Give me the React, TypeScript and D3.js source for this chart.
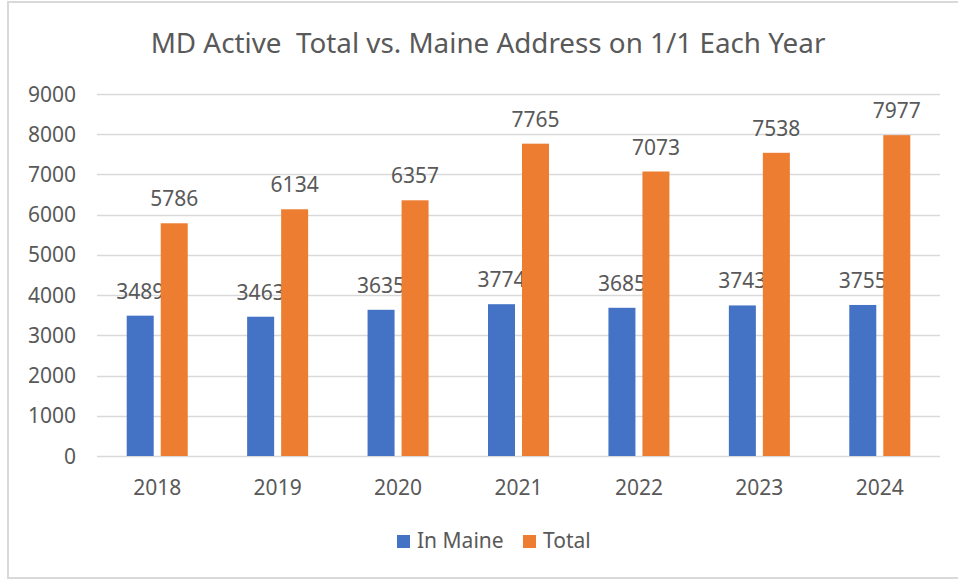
import React from "react";
import * as d3 from "d3";

const years = ["2018", "2019", "2020", "2021", "2022", "2023", "2024"];
const inMaine = [3489, 3463, 3635, 3774, 3685, 3743, 3755];
const total = [5786, 6134, 6357, 7765, 7073, 7538, 7977];
const yTicks = [0, 1000, 2000, 3000, 4000, 5000, 6000, 7000, 8000, 9000];
const seriesNames = ["In Maine", "Total"];
const colors = ["#4472C4", "#ED7D31"];
const title = "MD Active\u00A0 Total vs. Maine Address on 1/1 Each Year";

const W = 958;
const H = 579;
const FONT = "'Noto Sans', 'Open Sans', sans-serif";
const TXT = "#595959";

export default function App() {
  const left = 97;
  const right = 940;
  const y = d3.scaleLinear().domain([0, 9000]).range([456, 94]);
  const x = d3.scaleBand().domain(years).range([left, right]).paddingInner(0).paddingOuter(0);
  const barW = 27;
  const gap = 7;
  const series = [inMaine, total];

  return (
    <svg width={W} height={H} style={{ position: "absolute", left: 0, top: 0, background: "#fff" }}>
      <rect x={0} y={0} width={W} height={H} fill="#fff" />
      {/* border */}
      <path d={`M${W + 2},2 L8,2 L8,578 L${W + 2},578`} fill="none" stroke="#D9D9D9" strokeWidth={2} />
      <text x={488} y={53} textAnchor="middle" fontFamily={FONT} fontSize={27.8} fill={TXT}>{title}</text>
      {yTicks.map((t) => (
        <g key={t}>
          <line x1={left} x2={right} y1={Math.round(y(t)) + 0.5} y2={Math.round(y(t)) + 0.5} stroke="#D9D9D9" strokeWidth={1.5} />
          <text x={76} y={y(t)} dy="0.36em" textAnchor="end" fontFamily={FONT} fontSize={21} fill={TXT}>{t}</text>
        </g>
      ))}
      {years.map((yr, i) => {
        const cx = (x(yr) as number) + x.bandwidth() / 2;
        return (
          <g key={yr}>
            {series.map((s, k) => {
              const bx = k === 0 ? cx - gap / 2 - barW : cx + gap / 2;
              return (
                <g key={k}>
                  <rect x={bx} y={y(s[i])} width={barW} height={y(0) - y(s[i])} fill={colors[k]} />
                  <text x={bx + barW / 2} y={y(s[i]) - 17} textAnchor="middle" fontFamily={FONT} fontSize={21} fill={TXT}>{s[i]}</text>
                </g>
              );
            })}
            <text x={cx} y={495} textAnchor="middle" fontFamily={FONT} fontSize={21} fill={TXT}>{yr}</text>
          </g>
        );
      })}
      {/* legend */}
      {seriesNames.map((n, k) => {
        const lx = k === 0 ? 397 : 523;
        return (
          <g key={n}>
            <rect x={lx} y={535} width={13} height={13} fill={colors[k]} />
            <text x={lx + 20} y={548} fontFamily={FONT} fontSize={21} fill={TXT}>{n}</text>
          </g>
        );
      })}
    </svg>
  );
}
